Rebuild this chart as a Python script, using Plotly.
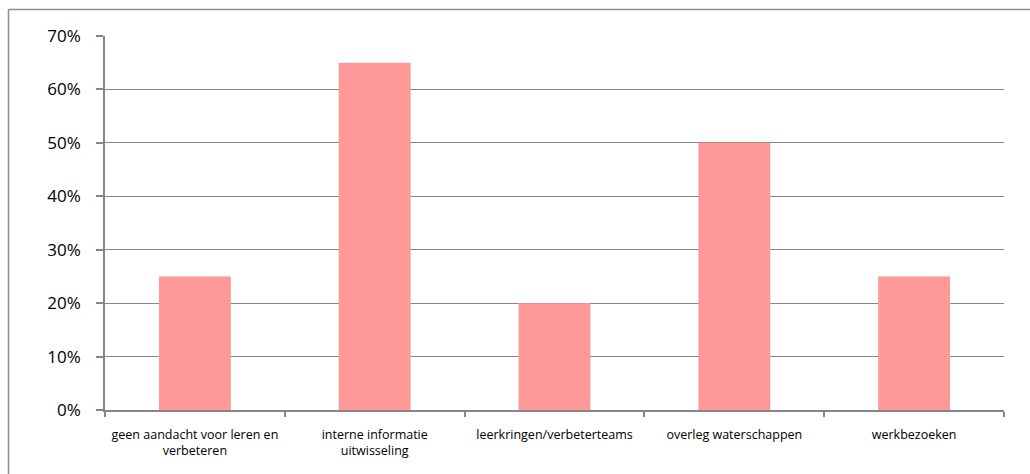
import plotly.graph_objects as go

categories = ["geen aandacht voor leren en<br>verbeteren", "interne informatie<br>uitwisseling",
              "leerkringen/verbeterteams", "overleg waterschappen", "werkbezoeken"]
values = [0.25, 0.65, 0.20, 0.50, 0.25]
y_ticks = [0, 0.1, 0.2, 0.3, 0.4, 0.5, 0.6, 0.7]
y_tick_labels = ["0%", "10%", "20%", "30%", "40%", "50%", "60%", "70%"]

W, H = 1030, 474
L, R, T, B = 105, 26, 36, 64
pw, ph = W - L - R, H - T - B

def px_x(p):
    return (p - L) / pw

def px_y(p):
    return (H - B - p) / ph

border = dict(color="#8c8c8c", width=1.5)
fig = go.Figure(go.Bar(x=categories, y=values, marker=dict(color="#FF9999", line=dict(width=0)),
                       width=0.4))

fig.update_layout(
    width=W, height=H,
    margin=dict(l=L, r=R, t=T, b=B),
    paper_bgcolor="white", plot_bgcolor="white",
    showlegend=False,
    font=dict(family="Open Sans, DejaVu Sans", color="#000000"),
    shapes=[
        dict(type="line", xref="paper", yref="paper",
             x0=px_x(8.5), x1=px_x(1030), y0=px_y(9.5), y1=px_y(9.5), line=border, layer="below"),
        dict(type="line", xref="paper", yref="paper",
             x0=px_x(8.5), x1=px_x(8.5), y0=px_y(9.5), y1=px_y(474), line=border, layer="below"),
    ],
)
fig.update_xaxes(
    showgrid=False, showline=True, linecolor="#868686", linewidth=1.5,
    ticks="outside", tickson="boundaries", ticklen=5, tickcolor="#868686", tickwidth=1.5,
    tickfont=dict(size=12.5, family="Open Sans, DejaVu Sans"),
    ticklabelstandoff=12,
)
fig.update_yaxes(
    range=[0, 0.7], tickvals=y_ticks, ticktext=y_tick_labels,
    showgrid=True, gridcolor="#868686", gridwidth=1,
    showline=True, linecolor="#868686", linewidth=1.5,
    ticks="outside", ticklen=7, tickcolor="#868686", tickwidth=1.5,
    tickfont=dict(size=17, family="Open Sans, DejaVu Sans"),
    ticklabelstandoff=12, zeroline=False,
)

fig.write_html("out.html", config={"displayModeBar": False})
